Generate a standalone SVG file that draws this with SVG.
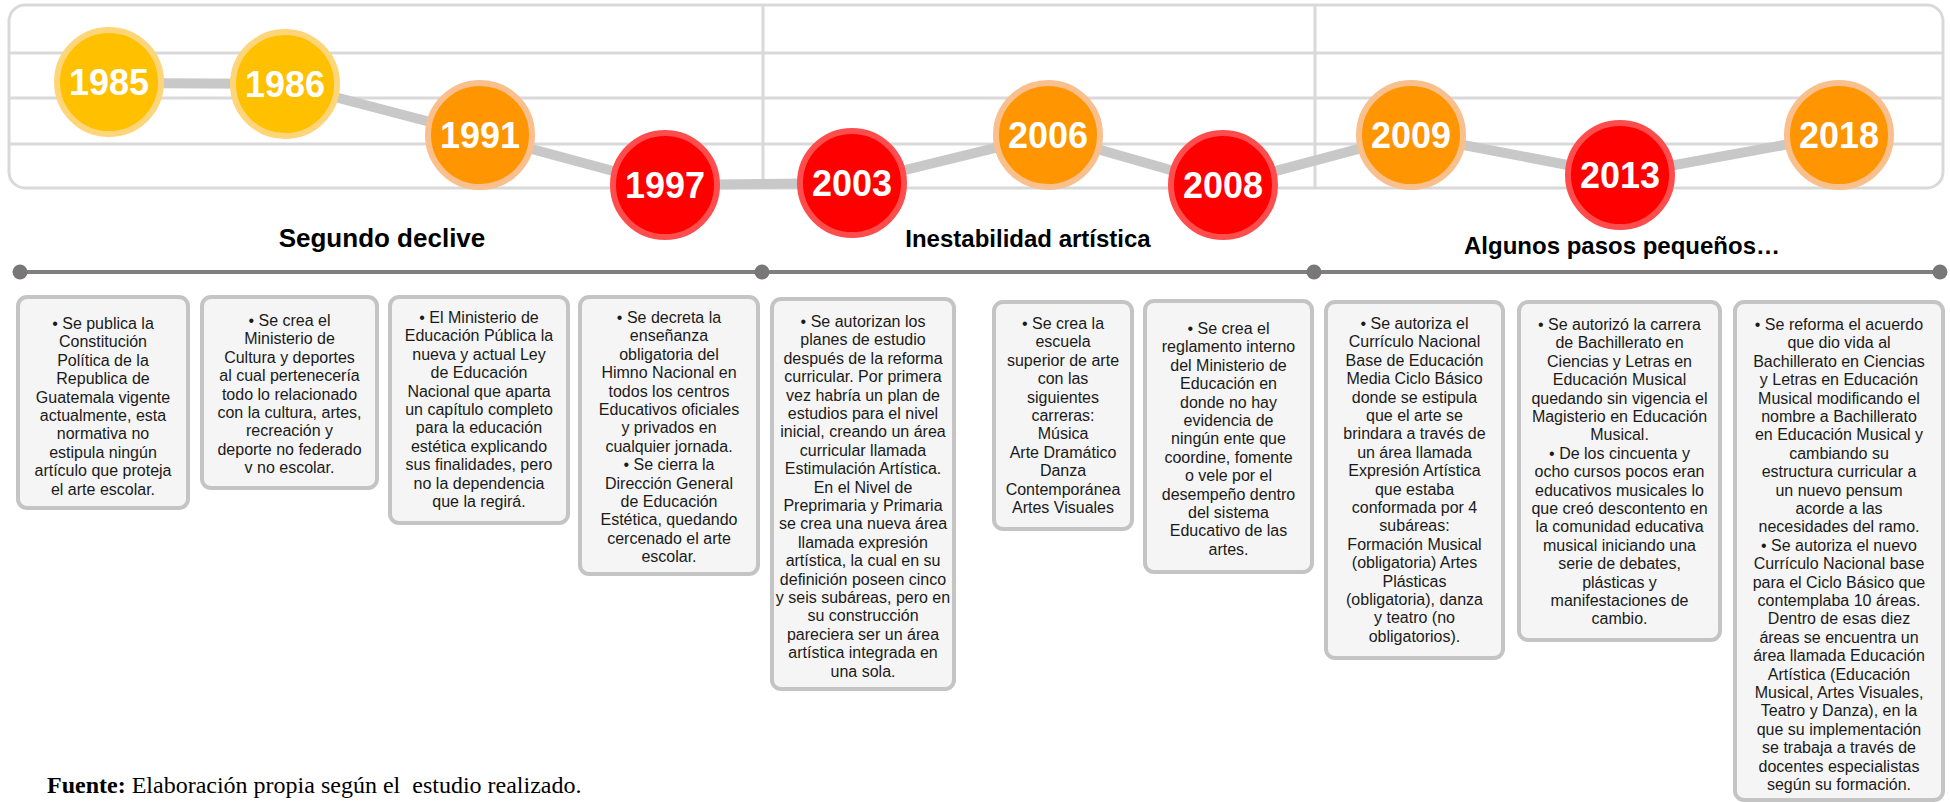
<svg xmlns="http://www.w3.org/2000/svg" width="1950" height="802" viewBox="0 0 1950 802">
<style>
.grid{fill:none;stroke:#D9D9D9;stroke-width:3}
.conn{fill:none;stroke:#C8C8C8;stroke-width:10;stroke-linejoin:round}
.yel{fill:#FFC000;stroke:#FFD57A;stroke-width:6}
.ora{fill:#FF9500;stroke:#F9C08E;stroke-width:6}
.red{fill:#FF0000;stroke:#FF4D4D;stroke-width:6}
.yr{font-family:"Liberation Sans",Arial,sans-serif;font-weight:bold;font-size:36px;fill:#fff;text-anchor:middle}
.hd{font-family:"Liberation Sans",Arial,sans-serif;font-weight:bold;font-size:24px;fill:#000;text-anchor:middle}
.tl{stroke:#7F7F7F;stroke-width:4}
.dot{fill:#7A7778}
.box{fill:#F5F5F5;stroke:#C4C4C4;stroke-width:4}
.bt{font-family:"Liberation Sans",Arial,sans-serif;font-size:16px;fill:#1A1A1A;text-anchor:middle}
.ft{font-family:"Liberation Serif","Times New Roman",serif;font-size:24px;fill:#000}
</style>
<g id="chart-grid">
<rect class="grid" x="9" y="5" width="1934" height="183" rx="16"/>
<line class="grid" x1="9" y1="53" x2="1943" y2="53"/>
<line class="grid" x1="9" y1="98" x2="1943" y2="98"/>
<line class="grid" x1="9" y1="144" x2="1943" y2="144"/>
<line class="grid" x1="763" y1="5" x2="763" y2="188"/>
<line class="grid" x1="1315" y1="5" x2="1315" y2="188"/>
</g>
<g id="connectors">
<polyline class="conn" points="109,83 285,84 480,135 665,185 852,183 1048,135 1223,185 1411,135 1620,175 1839,135"/>
</g>
<g id="n1985"><circle class="yel" cx="109" cy="82" r="52"/><text class="yr" x="109" y="95">1985</text></g>
<g id="n1986"><circle class="yel" cx="285" cy="84" r="52"/><text class="yr" x="285" y="97">1986</text></g>
<g id="n1991"><circle class="ora" cx="480" cy="135" r="52"/><text class="yr" x="480" y="148">1991</text></g>
<g id="n1997"><circle class="red" cx="665" cy="185" r="52"/><text class="yr" x="665" y="198">1997</text></g>
<g id="n2003"><circle class="red" cx="852" cy="183" r="52"/><text class="yr" x="852" y="196">2003</text></g>
<g id="n2006"><circle class="ora" cx="1048" cy="135" r="52"/><text class="yr" x="1048" y="148">2006</text></g>
<g id="n2008"><circle class="red" cx="1223" cy="185" r="52"/><text class="yr" x="1223" y="198">2008</text></g>
<g id="n2009"><circle class="ora" cx="1411" cy="135" r="52"/><text class="yr" x="1411" y="148">2009</text></g>
<g id="n2013"><circle class="red" cx="1620" cy="175" r="52"/><text class="yr" x="1620" y="188">2013</text></g>
<g id="n2018"><circle class="ora" cx="1839" cy="135" r="52"/><text class="yr" x="1839" y="148">2018</text></g>
<g id="headings">
<text class="hd" x="382" y="247" style="font-size:26px">Segundo declive</text>
<text class="hd" x="1028" y="247">Inestabilidad artística</text>
<text class="hd" x="1622" y="254">Algunos pasos pequeños…</text>
</g>
<g id="timeline">
<line class="tl" x1="20" y1="272" x2="1940" y2="272"/>
<circle class="dot" cx="20" cy="272" r="7.5"/>
<circle class="dot" cx="762" cy="272" r="7.5"/>
<circle class="dot" cx="1314" cy="272" r="7.5"/>
<circle class="dot" cx="1940" cy="272" r="7.5"/>
</g>
<g id="box1"><rect class="box" x="18" y="297" width="170" height="211" rx="9"/>
<text class="bt" y="329"><tspan x="103">• Se publica la</tspan><tspan x="103" dy="18.4">Constitución</tspan><tspan x="103" dy="18.4">Política de la</tspan><tspan x="103" dy="18.4">Republica de</tspan><tspan x="103" dy="18.4">Guatemala vigente</tspan><tspan x="103" dy="18.4">actualmente, esta</tspan><tspan x="103" dy="18.4">normativa no</tspan><tspan x="103" dy="18.4">estipula ningún</tspan><tspan x="103" dy="18.4">artículo que proteja</tspan><tspan x="103" dy="18.4">el arte escolar.</tspan></text></g>
<g id="box2"><rect class="box" x="202" y="297" width="175" height="191" rx="9"/>
<text class="bt" y="326"><tspan x="289.5">• Se crea el</tspan><tspan x="289.5" dy="18.4">Ministerio de</tspan><tspan x="289.5" dy="18.4">Cultura y deportes</tspan><tspan x="289.5" dy="18.4">al cual pertenecería</tspan><tspan x="289.5" dy="18.4">todo lo relacionado</tspan><tspan x="289.5" dy="18.4">con la cultura, artes,</tspan><tspan x="289.5" dy="18.4">recreación y</tspan><tspan x="289.5" dy="18.4">deporte no federado</tspan><tspan x="289.5" dy="18.4">v no escolar.</tspan></text></g>
<g id="box3"><rect class="box" x="390" y="297" width="178" height="226" rx="9"/>
<text class="bt" y="323"><tspan x="479">• El Ministerio de</tspan><tspan x="479" dy="18.4">Educación Pública la</tspan><tspan x="479" dy="18.4">nueva y actual Ley</tspan><tspan x="479" dy="18.4">de Educación</tspan><tspan x="479" dy="18.4">Nacional que aparta</tspan><tspan x="479" dy="18.4">un capítulo completo</tspan><tspan x="479" dy="18.4">para la educación</tspan><tspan x="479" dy="18.4">estética explicando</tspan><tspan x="479" dy="18.4">sus finalidades, pero</tspan><tspan x="479" dy="18.4">no la dependencia</tspan><tspan x="479" dy="18.4">que la regirá.</tspan></text></g>
<g id="box4"><rect class="box" x="580" y="297" width="178" height="277" rx="9"/>
<text class="bt" y="323"><tspan x="669">• Se decreta la</tspan><tspan x="669" dy="18.4">enseñanza</tspan><tspan x="669" dy="18.4">obligatoria del</tspan><tspan x="669" dy="18.4">Himno Nacional en</tspan><tspan x="669" dy="18.4">todos los centros</tspan><tspan x="669" dy="18.4">Educativos oficiales</tspan><tspan x="669" dy="18.4">y privados en</tspan><tspan x="669" dy="18.4">cualquier jornada.</tspan><tspan x="669" dy="18.4">• Se cierra la</tspan><tspan x="669" dy="18.4">Dirección General</tspan><tspan x="669" dy="18.4">de Educación</tspan><tspan x="669" dy="18.4">Estética, quedando</tspan><tspan x="669" dy="18.4">cercenado el arte</tspan><tspan x="669" dy="18.4">escolar.</tspan></text></g>
<g id="box5"><rect class="box" x="772" y="299" width="182" height="390" rx="9"/>
<text class="bt" y="327"><tspan x="863">• Se autorizan los</tspan><tspan x="863" dy="18.4">planes de estudio</tspan><tspan x="863" dy="18.4">después de la reforma</tspan><tspan x="863" dy="18.4">curricular. Por primera</tspan><tspan x="863" dy="18.4">vez habría un plan de</tspan><tspan x="863" dy="18.4">estudios para el nivel</tspan><tspan x="863" dy="18.4">inicial, creando un área</tspan><tspan x="863" dy="18.4">curricular llamada</tspan><tspan x="863" dy="18.4">Estimulación Artística.</tspan><tspan x="863" dy="18.4">En el Nivel de</tspan><tspan x="863" dy="18.4">Preprimaria y Primaria</tspan><tspan x="863" dy="18.4">se crea una nueva área</tspan><tspan x="863" dy="18.4">llamada expresión</tspan><tspan x="863" dy="18.4">artística, la cual en su</tspan><tspan x="863" dy="18.4">definición poseen cinco</tspan><tspan x="863" dy="18.4">y seis subáreas, pero en</tspan><tspan x="863" dy="18.4">su construcción</tspan><tspan x="863" dy="18.4">pareciera ser un área</tspan><tspan x="863" dy="18.4">artística integrada en</tspan><tspan x="863" dy="18.4">una sola.</tspan></text></g>
<g id="box6"><rect class="box" x="994" y="302" width="138" height="227" rx="9"/>
<text class="bt" y="329"><tspan x="1063">• Se crea la</tspan><tspan x="1063" dy="18.4">escuela</tspan><tspan x="1063" dy="18.4">superior de arte</tspan><tspan x="1063" dy="18.4">con las</tspan><tspan x="1063" dy="18.4">siguientes</tspan><tspan x="1063" dy="18.4">carreras:</tspan><tspan x="1063" dy="18.4">Música</tspan><tspan x="1063" dy="18.4">Arte Dramático</tspan><tspan x="1063" dy="18.4">Danza</tspan><tspan x="1063" dy="18.4">Contemporánea</tspan><tspan x="1063" dy="18.4">Artes Visuales</tspan></text></g>
<g id="box7"><rect class="box" x="1145" y="301" width="167" height="271" rx="9"/>
<text class="bt" y="334"><tspan x="1228.5">• Se crea el</tspan><tspan x="1228.5" dy="18.4">reglamento interno</tspan><tspan x="1228.5" dy="18.4">del Ministerio de</tspan><tspan x="1228.5" dy="18.4">Educación en</tspan><tspan x="1228.5" dy="18.4">donde no hay</tspan><tspan x="1228.5" dy="18.4">evidencia de</tspan><tspan x="1228.5" dy="18.4">ningún ente que</tspan><tspan x="1228.5" dy="18.4">coordine, fomente</tspan><tspan x="1228.5" dy="18.4">o vele por el</tspan><tspan x="1228.5" dy="18.4">desempeño dentro</tspan><tspan x="1228.5" dy="18.4">del sistema</tspan><tspan x="1228.5" dy="18.4">Educativo de las</tspan><tspan x="1228.5" dy="18.4">artes.</tspan></text></g>
<g id="box8"><rect class="box" x="1326" y="302" width="177" height="356" rx="9"/>
<text class="bt" y="329"><tspan x="1414.5">• Se autoriza el</tspan><tspan x="1414.5" dy="18.4">Currículo Nacional</tspan><tspan x="1414.5" dy="18.4">Base de Educación</tspan><tspan x="1414.5" dy="18.4">Media Ciclo Básico</tspan><tspan x="1414.5" dy="18.4">donde se estipula</tspan><tspan x="1414.5" dy="18.4">que el arte se</tspan><tspan x="1414.5" dy="18.4">brindara a través de</tspan><tspan x="1414.5" dy="18.4">un área llamada</tspan><tspan x="1414.5" dy="18.4">Expresión Artística</tspan><tspan x="1414.5" dy="18.4">que estaba</tspan><tspan x="1414.5" dy="18.4">conformada por 4</tspan><tspan x="1414.5" dy="18.4">subáreas:</tspan><tspan x="1414.5" dy="18.4">Formación Musical</tspan><tspan x="1414.5" dy="18.4">(obligatoria) Artes</tspan><tspan x="1414.5" dy="18.4">Plásticas</tspan><tspan x="1414.5" dy="18.4">(obligatoria), danza</tspan><tspan x="1414.5" dy="18.4">y teatro (no</tspan><tspan x="1414.5" dy="18.4">obligatorios).</tspan></text></g>
<g id="box9"><rect class="box" x="1519" y="302" width="201" height="338" rx="9"/>
<text class="bt" y="330"><tspan x="1619.5">• Se autorizó la carrera</tspan><tspan x="1619.5" dy="18.4">de Bachillerato en</tspan><tspan x="1619.5" dy="18.4">Ciencias y Letras en</tspan><tspan x="1619.5" dy="18.4">Educación Musical</tspan><tspan x="1619.5" dy="18.4">quedando sin vigencia el</tspan><tspan x="1619.5" dy="18.4">Magisterio en Educación</tspan><tspan x="1619.5" dy="18.4">Musical.</tspan><tspan x="1619.5" dy="18.4">• De los cincuenta y</tspan><tspan x="1619.5" dy="18.4">ocho cursos pocos eran</tspan><tspan x="1619.5" dy="18.4">educativos musicales lo</tspan><tspan x="1619.5" dy="18.4">que creó descontento en</tspan><tspan x="1619.5" dy="18.4">la comunidad educativa</tspan><tspan x="1619.5" dy="18.4">musical iniciando una</tspan><tspan x="1619.5" dy="18.4">serie de debates,</tspan><tspan x="1619.5" dy="18.4">plásticas y</tspan><tspan x="1619.5" dy="18.4">manifestaciones de</tspan><tspan x="1619.5" dy="18.4">cambio.</tspan></text></g>
<g id="box10"><rect class="box" x="1735" y="302" width="208" height="498" rx="9"/>
<text class="bt" y="330"><tspan x="1839">• Se reforma el acuerdo</tspan><tspan x="1839" dy="18.4">que dio vida al</tspan><tspan x="1839" dy="18.4">Bachillerato en Ciencias</tspan><tspan x="1839" dy="18.4">y Letras en Educación</tspan><tspan x="1839" dy="18.4">Musical modificando el</tspan><tspan x="1839" dy="18.4">nombre a Bachillerato</tspan><tspan x="1839" dy="18.4">en Educación Musical y</tspan><tspan x="1839" dy="18.4">cambiando su</tspan><tspan x="1839" dy="18.4">estructura curricular a</tspan><tspan x="1839" dy="18.4">un nuevo pensum</tspan><tspan x="1839" dy="18.4">acorde a las</tspan><tspan x="1839" dy="18.4">necesidades del ramo.</tspan><tspan x="1839" dy="18.4">• Se autoriza el nuevo</tspan><tspan x="1839" dy="18.4">Currículo Nacional base</tspan><tspan x="1839" dy="18.4">para el Ciclo Básico que</tspan><tspan x="1839" dy="18.4">contemplaba 10 áreas.</tspan><tspan x="1839" dy="18.4">Dentro de esas diez</tspan><tspan x="1839" dy="18.4">áreas se encuentra un</tspan><tspan x="1839" dy="18.4">área llamada Educación</tspan><tspan x="1839" dy="18.4">Artística (Educación</tspan><tspan x="1839" dy="18.4">Musical, Artes Visuales,</tspan><tspan x="1839" dy="18.4">Teatro y Danza), en la</tspan><tspan x="1839" dy="18.4">que su implementación</tspan><tspan x="1839" dy="18.4">se trabaja a través de</tspan><tspan x="1839" dy="18.4">docentes especialistas</tspan><tspan x="1839" dy="18.4">según su formación.</tspan></text></g>
<g id="footer"><text class="ft" x="47" y="793" xml:space="preserve"><tspan font-weight="bold">Fuente:</tspan> Elaboración propia según el  estudio realizado.</text></g>
</svg>
